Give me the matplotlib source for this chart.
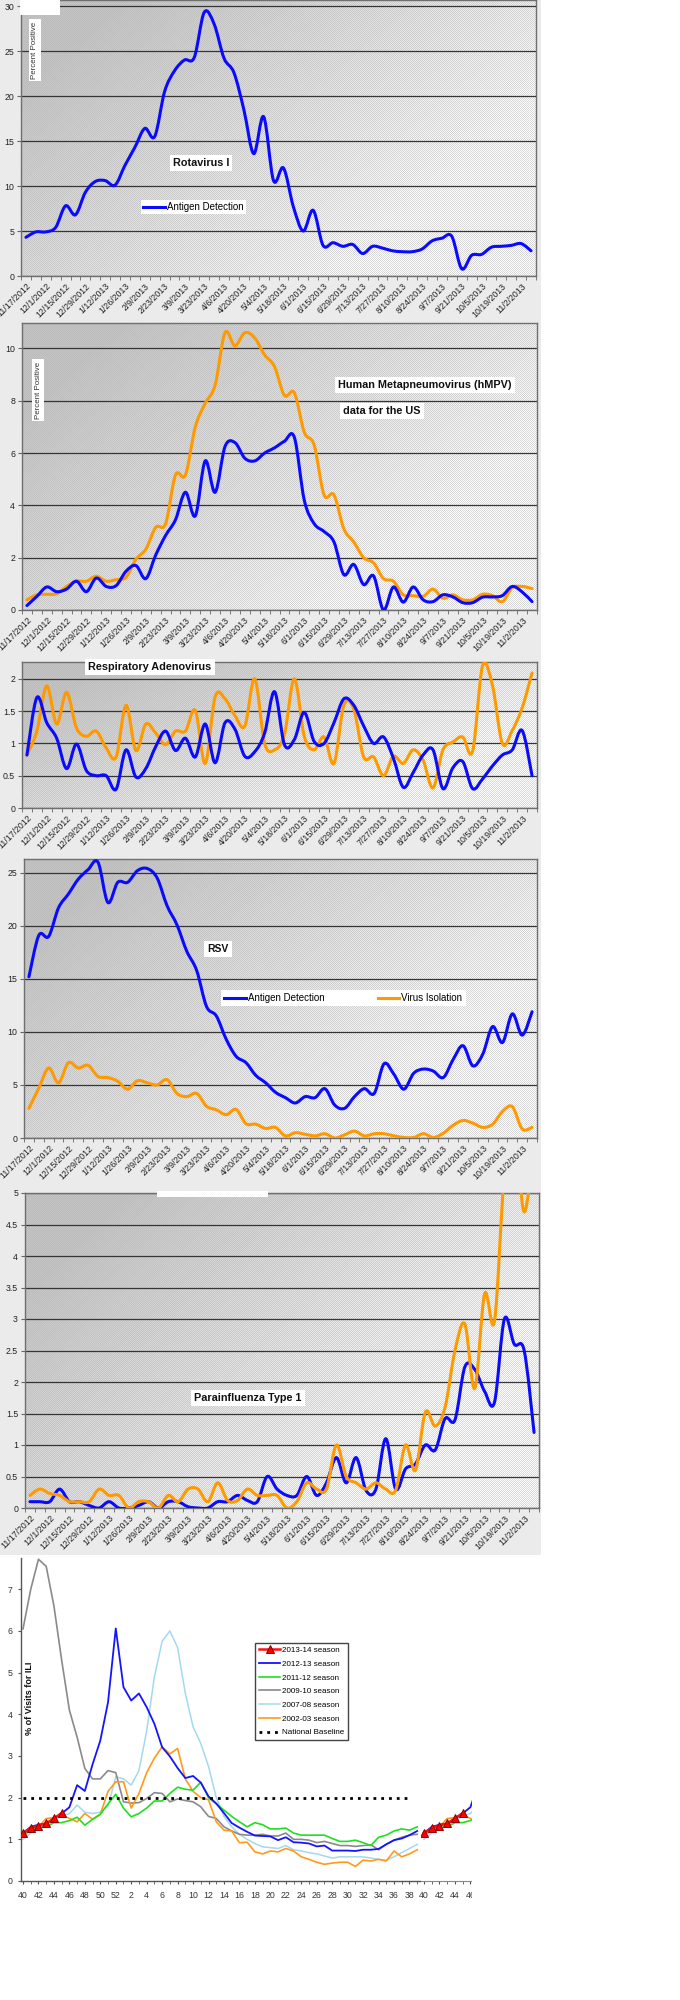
import numpy as np
import matplotlib
matplotlib.use('Agg')
import matplotlib.pyplot as plt
from matplotlib.path import Path
from matplotlib.patches import PathPatch, Rectangle
from matplotlib.lines import Line2D

plt.rcParams['font.family'] = ['Liberation Sans', 'DejaVu Sans']

W, H = 680, 2000
BLUE = '#0a0aff'
ORANGE = '#ff9900'

# ---------------- data ----------------
date_labels = ['11/17/2012', '12/1/2012', '12/15/2012', '12/29/2012', '1/12/2013', '1/26/2013',
               '2/9/2013', '2/23/2013', '3/9/2013', '3/23/2013', '4/6/2013', '4/20/2013',
               '5/4/2013', '5/18/2013', '6/1/2013', '6/15/2013', '6/29/2013', '7/13/2013',
               '7/27/2013', '8/10/2013', '8/24/2013', '9/7/2013', '9/21/2013', '10/5/2013',
               '10/19/2013', '11/2/2013']

rota_antigen = [4.3, 4.9, 4.9, 5.4, 7.8, 6.8, 9.3, 10.5, 10.6, 10.1,
                12.3, 14.3, 16.4, 15.5, 20.5, 22.8, 24.0, 24.3, 29.3, 28.0,
                24.2, 22.6, 18.5, 13.6, 17.7, 10.6, 12.0, 7.7, 5.0, 7.3,
                3.4, 3.7, 3.3, 3.5, 2.5, 3.3, 3.1, 2.8, 2.7, 2.7,
                3.0, 3.9, 4.2, 4.4, 0.8, 2.3, 2.4, 3.2, 3.3, 3.4,
                3.6, 2.8]

hmpv_antigen = [0.17, 0.52, 0.88, 0.7, 0.8, 1.1, 0.7, 1.22, 0.9, 0.93,
                1.48, 1.7, 1.2, 2.1, 2.85, 3.45, 4.5, 3.6, 5.7, 4.5,
                6.25, 6.4, 5.8, 5.7, 6.0, 6.2, 6.45, 6.6, 4.2, 3.3,
                3.0, 2.6, 1.35, 1.74, 0.97, 1.3, 0.0, 0.88, 0.3, 0.88,
                0.39, 0.32, 0.58, 0.5, 0.28, 0.28, 0.49, 0.5, 0.55, 0.9,
                0.69, 0.32]
hmpv_isolation = [0.39, 0.58, 0.6, 0.62, 0.9, 1.1, 1.1, 1.29, 1.1, 1.16,
                  1.25, 1.94, 2.32, 3.16, 3.3, 5.16, 5.16, 7.0, 7.9, 8.6,
                  10.6, 10.1, 10.6, 10.4, 9.75, 9.3, 8.2, 8.3, 6.8, 6.3,
                  4.4, 4.4, 3.1, 2.6, 2.0, 1.8, 1.2, 1.1, 0.58, 0.55,
                  0.52, 0.8, 0.45, 0.58, 0.39, 0.39, 0.6, 0.55, 0.32, 0.85,
                  0.9, 0.82]

adeno_antigen = [0.82, 1.71, 1.32, 1.08, 0.61, 0.99, 0.58, 0.5, 0.5, 0.29,
                 0.9, 0.48, 0.61, 0.95, 1.19, 0.89, 1.08, 0.79, 1.3, 0.7,
                 1.32, 1.22, 0.8, 0.87, 1.16, 1.8, 0.98, 1.06, 1.48, 1.03,
                 1.0, 1.32, 1.69, 1.59, 1.27, 1.0, 1.1, 0.77, 0.32, 0.55,
                 0.82, 0.9, 0.3, 0.62, 0.72, 0.3, 0.45, 0.65, 0.82, 0.9,
                 1.2, 0.5]
adeno_isolation = [0.82, 1.19, 1.89, 1.3, 1.79, 1.24, 1.11, 1.19, 0.93, 0.79,
                   1.59, 0.89, 1.3, 1.16, 0.98, 1.19, 1.19, 1.51, 0.69, 1.72,
                   1.69, 1.43, 1.27, 2.0, 1.0, 0.9, 1.14, 2.0, 1.11, 0.9,
                   1.1, 0.69, 1.59, 1.53, 0.79, 0.79, 0.5, 0.8, 0.69, 0.9,
                   0.74, 0.31, 0.9, 1.02, 1.1, 0.88, 2.2, 1.9, 1.0, 1.2,
                   1.55, 2.09]

rsv_antigen = [15.2, 19.1, 19.0, 21.7, 23.0, 24.4, 25.3, 26.0, 22.2, 24.1,
               24.1, 25.2, 25.4, 24.5, 21.9, 20.1, 17.6, 15.8, 12.4, 11.5,
               9.3, 7.7, 7.1, 5.9, 5.2, 4.3, 3.8, 3.3, 3.9, 3.8,
               4.65, 3.1, 2.8, 3.9, 4.65, 4.2, 7.0, 6.0, 4.6, 6.1,
               6.5, 6.3, 5.7, 7.4, 8.7, 6.8, 7.9, 10.5, 9.0, 11.7,
               9.7, 11.9]
rsv_isolation = [2.8, 4.7, 6.6, 5.2, 7.1, 6.6, 6.85, 5.8, 5.7, 5.35,
                 4.6, 5.4, 5.2, 5.0, 5.5, 4.2, 3.9, 4.2, 3.0, 2.65,
                 2.2, 2.7, 1.35, 1.3, 0.9, 1.0, 0.2, 0.5, 0.35, 0.2,
                 0.4, 0.0, 0.3, 0.65, 0.2, 0.4, 0.4, 0.2, 0.05, 0.05,
                 0.4, 0.05, 0.45, 1.2, 1.65, 1.4, 1.0, 1.3, 2.5, 2.95,
                 0.85, 1.0]

para_antigen = [0.1, 0.1, 0.1, 0.3, 0.1, 0.1, 0.04, 0.0, 0.1, 0.0,
                0.0, 0.04, 0.1, 0.0, 0.1, 0.1, 0.02, 0.0, 0.0, 0.1,
                0.1, 0.2, 0.12, 0.1, 0.5, 0.3, 0.2, 0.2, 0.5, 0.2,
                0.4, 0.8, 0.4, 0.8, 0.28, 0.3, 1.1, 0.3, 0.62, 0.7,
                1.0, 0.92, 1.42, 1.4, 2.24, 2.2, 1.85, 1.68, 3.0, 2.6,
                2.5, 1.2]
para_isolation = [0.2, 0.3, 0.23, 0.2, 0.1, 0.1, 0.1, 0.3, 0.2, 0.2,
                  0.0, 0.1, 0.1, 0.0, 0.2, 0.1, 0.3, 0.3, 0.1, 0.4,
                  0.12, 0.12, 0.3, 0.2, 0.2, 0.2, 0.0, 0.1, 0.4, 0.3,
                  0.3, 1.0, 0.5, 0.4, 0.3, 0.4, 0.3, 0.28, 1.0, 0.6,
                  1.52, 1.3, 1.6, 2.5, 2.92, 1.9, 3.4, 2.97, 5.3, 6.0,
                  4.7, 5.8]

ili_week_labels = ['40', '42', '44', '46', '48', '50', '52', '2', '4', '6', '8', '10', '12',
                   '14', '16', '18', '20', '22', '24', '26', '28', '30', '32', '34', '36', '38']
ili_next_labels = ['40', '42', '44', '46']
ili_2013_14 = [1.15, 1.27, 1.33, 1.38, 1.5, 1.63]
ili_2012_13 = [1.15, 1.3, 1.35, 1.38, 1.5, 1.62, 1.77, 2.3, 2.16, 2.8, 3.37, 4.29, 6.06,
               4.65, 4.33, 4.5, 4.17, 3.77, 3.21, 2.99, 2.71, 2.47, 2.52, 2.36, 2.03, 1.86,
               1.63, 1.39, 1.28, 1.18, 1.09, 1.08, 1.07, 0.98, 1.05, 0.93, 0.92, 0.9, 0.83,
               0.85, 0.73, 0.73, 0.73, 0.72, 0.75, 0.75, 0.77, 0.88, 0.98, 1.02, 1.1, 1.2]
ili_2011_12 = [1.13, 1.2, 1.28, 1.3, 1.4, 1.4, 1.45, 1.53, 1.34, 1.48, 1.6, 1.85, 2.08,
               1.75, 1.54, 1.62, 1.75, 1.92, 1.92, 2.1, 2.25, 2.2, 2.18, 2.37, 2.0, 1.85,
               1.7, 1.55, 1.42, 1.3, 1.4, 1.35, 1.25, 1.25, 1.27, 1.15, 1.1, 1.1, 1.1,
               1.1, 1.02, 0.95, 0.95, 0.98, 0.92, 0.85, 1.05, 1.1, 1.2, 1.25, 1.22, 1.3]
ili_2009_10 = [6.05, 7.0, 7.72, 7.55, 6.6, 5.3, 4.1, 3.45, 2.7, 2.45, 2.45, 2.65, 2.6,
               1.9, 1.87, 1.88, 1.98, 2.12, 2.1, 1.9, 1.97, 1.93, 1.9, 1.78, 1.55, 1.5,
               1.3, 1.2, 1.12, 1.1, 1.1, 1.12, 1.08, 1.08, 1.15, 1.0, 1.0, 0.98, 0.92,
               0.95, 0.9, 0.85, 0.85, 0.83, 0.85, 0.87, 0.75, 0.88, 0.98, 1.05, 1.1, 1.12]
ili_2007_08 = [1.0, 1.15, 1.25, 1.35, 1.45, 1.55, 1.62, 1.82, 1.65, 1.62, 1.65, 1.8, 2.5,
               2.45, 2.3, 2.65, 3.6, 4.9, 5.75, 6.0, 5.6, 4.5, 3.7, 3.3, 2.75, 2.0,
               1.55, 1.3, 1.12, 1.0, 0.9, 0.82, 0.8, 0.78, 0.85, 0.75, 0.72, 0.68, 0.65,
               0.6, 0.55, 0.58, 0.58, 0.58, 0.58, 0.55, 0.52, 0.5, 0.58, 0.68, 0.78, 0.88]
ili_2002_03 = [1.1, 1.2, 1.3, 1.5, 1.52, 1.58, 1.5, 1.42, 1.62, 1.48, 1.6, 2.15, 2.38,
               2.38, 1.75, 2.1, 2.6, 2.95, 3.22, 3.05, 3.18, 2.45, 2.15, 2.0, 1.95, 1.42,
               1.22, 1.2, 0.92, 0.93, 0.7, 0.65, 0.72, 0.7, 0.78, 0.72, 0.58, 0.52, 0.45,
               0.4, 0.43, 0.45, 0.45, 0.35, 0.5, 0.48, 0.52, 0.48, 0.72, 0.58, 0.65, 0.75]
ili_baseline = 2.0
ili_season_names = ['2013-14 season', '2012-13 season', '2011-12 season', '2009-10 season',
                    '2007-08 season', '2002-03 season', 'National Baseline']

# ---------------- helpers ----------------
fig = plt.figure(figsize=(W / 100, H / 100), dpi=100)
fig.patch.set_facecolor('white')
fig.add_artist(Rectangle((0, 1 - 1555 / H), 541 / W, 1555 / H, transform=fig.transFigure,
                         fc='#ebebeb', ec='none', zorder=-5))


def px_axes(x0, y0, x1, y1):
    return fig.add_axes([x0 / W, 1 - y1 / H, (x1 - x0) / W, (y1 - y0) / H])


def smooth_line(ax, values, color, lw=2.2, z=3):
    y = np.asarray(values, float)
    x = np.arange(len(y), dtype=float)
    P = np.column_stack([x, y])
    n = len(P)
    verts = [P[0]]
    codes = [Path.MOVETO]
    for i in range(n - 1):
        p0 = P[max(i - 1, 0)]
        p1 = P[i]
        p2 = P[i + 1]
        p3 = P[min(i + 2, n - 1)]
        verts += [p1 + (p2 - p0) / 6.0, p2 - (p3 - p1) / 6.0, p2]
        codes += [Path.CURVE4] * 3
    ax.add_patch(PathPatch(Path(verts, codes), fill=False, ec=color, lw=lw,
                           capstyle='round', joinstyle='round', zorder=z))


def date_panel(x0, y0, x1, y1, ymax, ystep):
    ax = px_axes(x0, y0, x1, y1)
    w, h = int(x1 - x0), int(y1 - y0)
    yy, xx = np.mgrid[0:h, 0:w]
    u = xx / w
    v = yy / h
    t = np.clip(0.95 * u + 0.6 * v - 0.18, 0, 1)
    base = 0.75 + 0.17 * t
    chk = np.where((xx + yy) % 2 == 0, 1.0, -1.0)
    amp = 0.015 + 0.065 * t
    img = np.clip(base + amp * chk, 0, 1)
    ax.imshow(img, cmap='gray', vmin=0, vmax=1, extent=(-0.5, 51.5, 0, ymax),
              aspect='auto', interpolation='nearest', zorder=0)
    ax.set_xlim(-0.5, 51.5)
    ax.set_ylim(0, ymax)
    yt = np.arange(0, ymax + 1e-9, ystep)
    ax.set_yticks(yt)
    ax.set_yticklabels([f'{v:g}' for v in yt])
    ax.yaxis.grid(True, color='#353535', lw=0.9)
    ax.set_axisbelow(True)
    ax.set_xticks(np.arange(0, 52, 2))
    ax.set_xticklabels(date_labels, rotation=45, ha='right', va='top', rotation_mode='anchor')
    ax.set_xticks(np.arange(-0.5, 52, 1), minor=True)
    ax.tick_params(axis='x', which='major', length=0, labelsize=6.3, pad=4, labelcolor='#222222')
    ax.tick_params(axis='x', which='minor', length=3, color='#666666')
    ax.tick_params(axis='y', length=3, labelsize=6.3, pad=2, color='#666666', labelcolor='#222222')
    for s in ax.spines.values():
        s.set_color('#6f6f6f')
        s.set_linewidth(1.0)
    return ax


def title(x, y, s, size=7.8, ha='left'):
    fig.text(x / W, 1 - y / H, s, fontsize=size, fontweight='bold', ha=ha, va='center',
             color='#111111', zorder=6,
             bbox=dict(boxstyle='square,pad=0.3', fc='white', ec='none'))


def ylabel_box(x, y, s):
    fig.text(x / W, 1 - y / H, s, fontsize=5.7, rotation=90, ha='center', va='center',
             color='#333333', zorder=6,
             bbox=dict(boxstyle='square,pad=0.35', fc='white', ec='none'))


# ---------------- panel 1: Rotavirus ----------------
ax1 = date_panel(21, 0, 536, 276, 30.67, 5)
smooth_line(ax1, rota_antigen, BLUE)
fig.add_artist(Rectangle((20 / W, 1 - 15 / H), 40 / W, 15 / H, transform=fig.transFigure,
                         fc='white', ec='none', zorder=5))
ylabel_box(35, 50, 'Percent Positive')
title(201, 163, 'Rotavirus I', ha='center')
ax1.legend(handles=[Line2D([], [], color=BLUE, lw=2.2)], labels=['Antigen Detection'],
           loc='center left', bbox_to_anchor=(141 / W, 1 - 207 / H), bbox_transform=fig.transFigure,
           frameon=True, fancybox=False, edgecolor='none', facecolor='white', framealpha=1,
           fontsize=7, handlelength=2.2, handletextpad=0.2, borderpad=0.25, borderaxespad=0)

# ---------------- panel 2: hMPV ----------------
ax2 = date_panel(22, 323, 537, 610, 10.97, 2)
smooth_line(ax2, hmpv_isolation, ORANGE)
smooth_line(ax2, hmpv_antigen, BLUE)
ylabel_box(38, 390, 'Percent Positive')
title(338, 385, 'Human Metapneumovirus (hMPV)')
title(343, 411, 'data for the US')

# ---------------- panel 3: Adenovirus ----------------
ax3 = date_panel(22, 662, 537, 808, 2.26, 0.5)
smooth_line(ax3, adeno_isolation, ORANGE)
smooth_line(ax3, adeno_antigen, BLUE)
title(88, 667, 'Respiratory Adenovirus')

# ---------------- panel 4: RSV ----------------
ax4 = date_panel(24, 859, 537, 1138, 26.3, 5)
smooth_line(ax4, rsv_antigen, BLUE)
smooth_line(ax4, rsv_isolation, ORANGE)
title(218, 949, 'RSV', size=7.5, ha='center')
ax4.legend(handles=[Line2D([], [], color=BLUE, lw=2.2), Line2D([], [], color=ORANGE, lw=2.2)],
           labels=['Antigen Detection', 'Virus Isolation'], ncol=2,
           loc='center left', bbox_to_anchor=(221 / W, 1 - 998 / H), bbox_transform=fig.transFigure,
           frameon=True, fancybox=False, edgecolor='none', facecolor='white', framealpha=1,
           fontsize=7, handlelength=2.2, handletextpad=0.2, columnspacing=5.5,
           borderpad=0.35, borderaxespad=0)

# ---------------- panel 5: Parainfluenza ----------------
ax5 = date_panel(25, 1193, 539, 1508, 5.0, 0.5)
smooth_line(ax5, para_antigen, BLUE)
smooth_line(ax5, para_isolation, ORANGE)
fig.add_artist(Rectangle((157 / W, 1 - 1197 / H), 111 / W, 6 / H, transform=fig.transFigure,
                         fc='white', ec='none', zorder=5))
title(194, 1398, 'Parainfluenza Type 1')

# ---------------- panel 6: ILI ----------------
ax6 = px_axes(21, 1558, 420, 1881)
ax6.set_xlim(-0.26, 51.36)
ax6.set_ylim(0, 7.75)
x_all = np.arange(len(ili_2012_13))
l_cy, = ax6.plot(x_all, ili_2007_08, color='#a3d9ee', lw=1.1, zorder=2)
l_gr, = ax6.plot(x_all, ili_2009_10, color='#8a8a8a', lw=1.2, zorder=2.1)
l_or, = ax6.plot(x_all, ili_2002_03, color='#ff9a1a', lw=1.2, zorder=2.2)
l_gn, = ax6.plot(x_all, ili_2011_12, color='#1fe01f', lw=1.2, zorder=2.3)
l_bl, = ax6.plot(x_all, ili_2012_13, color='#1414ff', lw=1.3, zorder=2.4)
x_base = np.arange(len(ili_week_labels) * 2 - 1)
l_bs, = ax6.plot(x_base, [ili_baseline] * len(x_base), color='black', lw=2.0,
                 linestyle=(0, (1.0, 1.8)), zorder=2.5)
l_rd, = ax6.plot(np.arange(len(ili_2013_14)), ili_2013_14, color='#ff1010', lw=1.8,
                 marker='^', ms=5.5, mfc='#ff0000', mec='#8b0000', mew=0.7, zorder=3)
ax6.set_yticks(range(0, 8))
ax6.set_xticks(np.arange(0, 51, 2))
ax6.set_xticklabels(ili_week_labels)
ax6.set_xticks(np.arange(0, 52), minor=True)
ax6.tick_params(axis='both', which='major', labelsize=6.3, length=2.5, color='#555555',
                labelcolor='#333333')
ax6.tick_params(axis='x', which='minor', length=2, color='#555555')
ax6.tick_params(axis='x', pad=5)
for side in ['top', 'right']:
    ax6.spines[side].set_visible(False)
for side in ['left', 'bottom']:
    ax6.spines[side].set_color('#555555')
    ax6.spines[side].set_linewidth(1.0)
fig.text(30 / W, 1 - 1698 / H, '% of Visits for ILI', rotation=90, fontsize=6.5,
         fontweight='bold', ha='center', va='center', color='#111111')
ax6.legend(handles=[l_rd, l_bl, l_gn, l_gr, l_cy, l_or, l_bs], labels=ili_season_names,
           loc='upper left', bbox_to_anchor=(255 / W, 1 - 1643 / H), bbox_transform=fig.transFigure,
           frameon=True, fancybox=False, edgecolor='#444444', facecolor='white', framealpha=1,
           fontsize=5.8, handlelength=2.7, handletextpad=0.25, labelspacing=0.75,
           borderpad=0.45, borderaxespad=0, numpoints=1)

# continuation segment of the ILI chart (start of the next season, weeks 40-46)
ax7 = px_axes(421, 1558, 472, 1881)
ax7.set_xlim(-0.39, 6.21)
ax7.set_ylim(0, 7.75)
ax7.set_facecolor('none')
ax7.plot(x_all, ili_2007_08, color='#a3d9ee', lw=1.1, zorder=2)
ax7.plot(x_all, ili_2002_03, color='#ff9a1a', lw=1.2, zorder=2.2)
ax7.plot(x_all, ili_2011_12, color='#1fe01f', lw=1.2, zorder=2.3)
ax7.plot(x_all, ili_2012_13, color='#1414ff', lw=1.3, zorder=2.4)
ax7.plot(np.arange(len(ili_2013_14)), ili_2013_14, color='#ff1010', lw=1.8,
         marker='^', ms=5.5, mfc='#ff0000', mec='#8b0000', mew=0.7, zorder=3)
ax7.set_yticks([])
ax7.set_xticks(np.arange(0, 7, 2))
ax7.set_xticklabels(ili_next_labels)
ax7.set_xticks(np.arange(0, 7), minor=True)
ax7.tick_params(axis='x', which='major', labelsize=6.3, length=2.5, color='#555555',
                labelcolor='#333333', pad=5)
ax7.tick_params(axis='x', which='minor', length=2, color='#555555')
for side in ['top', 'right', 'left']:
    ax7.spines[side].set_visible(False)
ax7.spines['bottom'].set_color('#888888')
fig.add_artist(Rectangle((472 / W, 0), (W - 472) / W, 1 - 1555 / H, transform=fig.transFigure,
                         fc='white', ec='none', zorder=10))

fig.savefig('out.png', dpi=100, facecolor='white')
